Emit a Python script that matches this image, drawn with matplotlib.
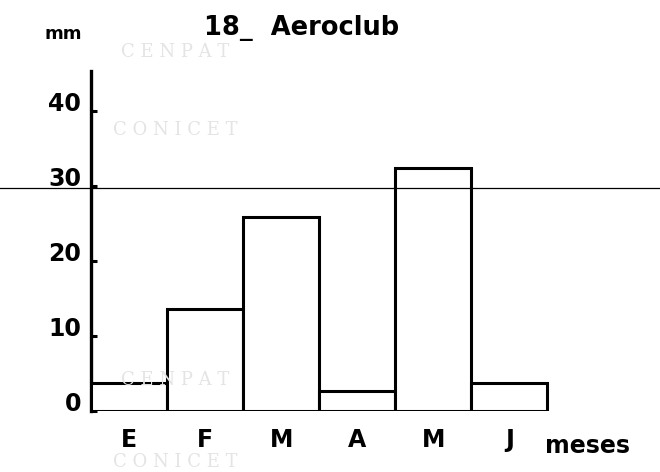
import matplotlib
matplotlib.use("Agg")
import matplotlib.pyplot as plt

months = ["E", "F", "M", "A", "M", "J"]
precip_mm = [3.7, 13.6, 25.9, 2.7, 32.4, 3.7]
yticks = [0, 10, 20, 30, 40]
title = "18_  Aeroclub"
ref_line_value = 29.7

fig = plt.figure(figsize=(6.6, 4.72), dpi=100)
ax = fig.add_axes([91/660, 61/472, 559/660, 340/472])

x = list(range(len(months)))
ax.bar(x, precip_mm, width=1.0, facecolor="white", edgecolor="black", linewidth=2.2, zorder=3)

ax.set_xlim(-0.5, 6.85)
ax.set_ylim(0, 45.3)

for s in ["top", "right", "bottom"]:
    ax.spines[s].set_visible(False)
ax.spines["left"].set_linewidth(2.4)

ax.set_yticks(yticks)
ax.set_yticklabels([str(v) for v in yticks])
ax.tick_params(axis="y", direction="in", length=4, width=2.2, pad=7,
               labelsize=17)
for lab in ax.get_yticklabels():
    lab.set_fontweight("bold")
    lab.set_verticalalignment("baseline")

ax.set_xticks(x)
ax.set_xticklabels(months)
ax.tick_params(axis="x", length=0, pad=12, labelsize=17)
for lab in ax.get_xticklabels():
    lab.set_fontweight("bold")

# horizontal line crossing the whole page (as in the scan)
ax.axhline(ref_line_value, xmin=-91/559, xmax=(660-91)/559, color="black",
           linewidth=0.9, clip_on=False, zorder=4)

fig.text(45/660, 1 - 39/472, "mm", fontsize=13, fontweight="bold", va="baseline", ha="left")
fig.text(204/660, 1 - 35/472, title, fontsize=18.5, fontweight="bold", va="baseline", ha="left")
fig.text(545/660, 1 - 453/472, "meses", fontsize=17, fontweight="bold", va="baseline", ha="left")

# faint watermark
wm = dict(fontsize=13, color="#e4e4e4", family="DejaVu Serif", ha="center", va="center", zorder=0)
fig.text(175/660, 1 - 52/472, "C E N P A T", **wm)
fig.text(175/660, 1 - 130/472, "C O N I C E T", **wm)
fig.text(175/660, 1 - 380/472, "C E N P A T", **wm)
fig.text(175/660, 1 - 462/472, "C O N I C E T", **wm)

fig.savefig("out.png", dpi=100)
